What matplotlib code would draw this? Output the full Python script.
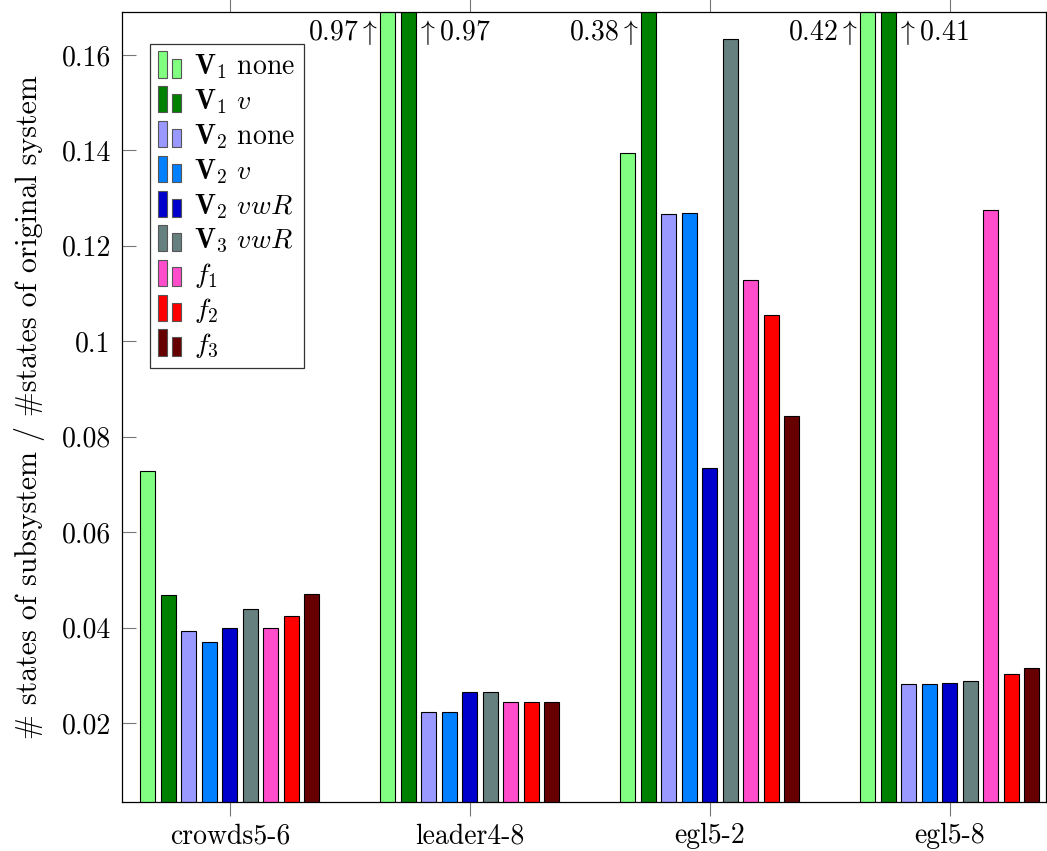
import matplotlib
matplotlib.use('Agg')
import matplotlib.pyplot as plt
from matplotlib.patches import Rectangle
from matplotlib.legend_handler import HandlerBase
from matplotlib.ticker import FuncFormatter
import numpy as np

# Daten
benchmarks = ['crowds5-6', 'leader4-8', 'egl5-2', 'egl5-8']
series = [r'$\mathbf{V}_1$ none', r'$\mathbf{V}_1$ $v$', r'$\mathbf{V}_2$ none',
          r'$\mathbf{V}_2$ $v$', r'$\mathbf{V}_2$ $vwR$', r'$\mathbf{V}_3$ $vwR$',
          r'$f_1$', r'$f_2$', r'$f_3$']
colors = ['#80ff80', '#008000', '#9999ff', '#0080ff', '#0000cc', '#668080',
          '#ff4dcc', '#ff0000', '#660000']

v1_none = [0.0729, 0.97, 0.1395, 0.42]
v1_v = [0.0468, 0.97, 0.38, 0.41]
v2_none = [0.0393, 0.0224, 0.1266, 0.0282]
v2_v = [0.0370, 0.0224, 0.1269, 0.0282]
v2_vwr = [0.0400, 0.0265, 0.0734, 0.0283]
v3_vwr = [0.0438, 0.0265, 0.1634, 0.0287]
f1 = [0.0400, 0.0244, 0.1128, 0.1275]
f2 = [0.0424, 0.0244, 0.1054, 0.0303]
f3 = [0.0470, 0.0244, 0.0843, 0.0315]
values = [v1_none, v1_v, v2_none, v2_v, v2_vwr, v3_vwr, f1, f2, f3]

ymin, ymax = 0.00344, 0.169

plt.rcParams['font.family'] = ['cmr10']
plt.rcParams['mathtext.fontset'] = 'cm'
plt.rcParams['axes.formatter.use_mathtext'] = True
plt.rcParams['font.size'] = 20


# Legendensymbol wie in pgfplots: zwei kleine Balken
class TwoBars(HandlerBase):
    def create_artists(self, legend, orig_handle, xdescent, ydescent,
                       width, height, fontsize, trans):
        w = width * 0.32
        fc = orig_handle.get_facecolor()
        r1 = Rectangle((-xdescent, -ydescent - 0.15 * height), w, height * 1.35,
                       facecolor=fc, edgecolor='#555555', linewidth=0.8, transform=trans)
        r2 = Rectangle((-xdescent + width * 0.5, -ydescent - 0.15 * height), w, height * 0.95,
                       facecolor=fc, edgecolor='#555555', linewidth=0.8, transform=trans)
        return [r1, r2]


fig = plt.figure(figsize=(10.47, 8.51), dpi=100)
ax = fig.add_axes([0.1165, 0.0576, 0.8825, 0.9283])

x = np.arange(len(benchmarks))
step = 0.0854
bw = 0.0625
handles = []
for i, (vals, col) in enumerate(zip(values, colors)):
    pos = x + (i - 4) * step
    b = ax.bar(pos, vals, bw, bottom=0, color=col, edgecolor='black',
               linewidth=0.8, label=series[i])
    handles.append(b.patches[0])

# Beschriftung abgeschnittener Balken
for g in range(len(benchmarks)):
    for i in range(len(values)):
        v = values[i][g]
        if v <= ymax:
            continue
        prev_clipped = i > 0 and values[i - 1][g] > ymax
        px = x[g] + (i - 4) * step
        if prev_clipped:
            ax.annotate('$\\uparrow$%.2f' % v, xy=(px + bw / 2, 0.1648),
                        xytext=(0, 0), textcoords='offset points',
                        ha='left', va='center', annotation_clip=False)
        else:
            ax.annotate('%.2f$\\uparrow$' % v, xy=(px - bw / 2, 0.1648),
                        xytext=(-2, 0), textcoords='offset points',
                        ha='right', va='center', annotation_clip=False)

ax.set_xlim(-0.45, 3.40)
ax.set_ylim(ymin, ymax)
ax.set_xticks(x)
ax.set_xticklabels(benchmarks)
ax.set_yticks([0.02, 0.04, 0.06, 0.08, 0.1, 0.12, 0.14, 0.16])
ax.yaxis.set_major_formatter(FuncFormatter(lambda v, p: '%g' % v))
ax.tick_params(axis='x', direction='out', top=True, length=10, width=0.8,
               color='#777777', pad=5)
ax.tick_params(axis='y', direction='in', length=10, width=0.8,
               color='#777777', pad=8)
for s in ax.spines.values():
    s.set_linewidth(0.9)

ax.set_ylabel('# states of subsystem / #states of original system',
              fontsize=21.5, labelpad=12)

leg = ax.legend(handles, series, loc='upper left', bbox_to_anchor=(0.030, 0.959),
                handler_map={Rectangle: TwoBars()}, handlelength=1.0,
                handletextpad=0.3, labelspacing=0.22, borderpad=0.3,
                fancybox=False, framealpha=1, edgecolor='#333333',
                borderaxespad=0)
leg.get_frame().set_linewidth(0.9)

plt.savefig('out.png', dpi=100)
